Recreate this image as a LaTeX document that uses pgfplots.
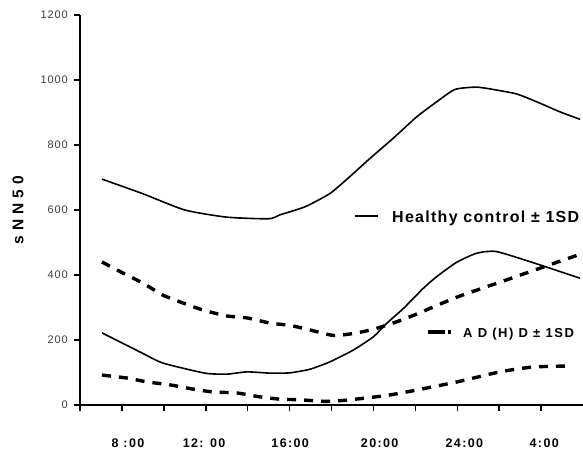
\documentclass[border=0pt]{standalone}
\usepackage{fontspec}
\setmainfont{Liberation Sans}
\newfontfamily\ytfont{Liberation Sans}[LetterSpace=8]
\newfontfamily\xtfont{Liberation Sans}[LetterSpace=11]
\newfontfamily\ylfont{Liberation Sans}[LetterSpace=32]
\newfontfamily\lgfont{Liberation Sans}[LetterSpace=8]
\newfontfamily\lgfontb{Liberation Sans}[LetterSpace=12]
\usepackage{pgfplots}
\pgfplotsset{compat=1.18}

\begin{document}
\begin{tikzpicture}[x=1pt,y=1pt]
\useasboundingbox (-80,-45) rectangle (503,405);
\begin{axis}[
    at={(0,0)}, anchor=south west,
    scale only axis,
    width=503pt, height=390pt,
    xmin=6, xmax=30, ymin=0, ymax=1200,
    axis x line*=bottom, axis y line*=left,
    axis line style={-, line width=1.8pt},
    tick align=outside,
    major tick length=6pt,
    tick style={line width=1.5pt, black},
    xtick={6,8,...,28}, xticklabels={},
    extra x ticks={8.29,11.92,16.03,20.30,24.34,28.15},
    extra x tick labels={8 :00,12: 00,16:00,20:00,24:00,4:00},
    extra x tick style={major tick length=0pt,
        xticklabel style={yshift=-34pt}},
    ytick={0,200,...,1200},
    /pgf/number format/assume math mode=true,
    /pgf/number format/1000 sep={},
    yticklabel style={font=\ytfont\fontsize{11}{13}\selectfont,
        text=black!75, inner sep=0pt, xshift=-6pt},
    xticklabel style={font=\xtfont\bfseries\fontsize{12.5}{14}\selectfont,
        inner sep=0pt, anchor=north},
    ylabel={sNN50},
    ylabel style={at={(axis description cs:-0.123,0.5)}, anchor=center,
        font=\ylfont\bfseries\fontsize{15.5}{17}\selectfont},
]
% healthy control +1SD
\addplot[line width=1.6pt, smooth, tension=0.35] coordinates {
    (7.05,695) (9.0,650) (11.0,600) (13.0,578) (15.0,573) (15.54,585)
    (16.74,610) (17.93,651) (18.88,703) (19.84,759) (20.95,821)
    (22.07,887) (23.02,933) (23.89,971) (24.93,978) (25.88,969)
    (26.84,957) (27.79,933) (28.9,902) (29.86,879)
};
% healthy control -1SD
\addplot[line width=1.6pt, smooth, tension=0.35] coordinates {
    (7.05,222) (8.96,160) (9.96,129) (11.96,98) (13.01,95) (13.97,102)
    (15.07,98) (16.02,99) (16.97,110) (17.93,133) (19.04,169) (20.0,210)
    (20.63,251) (21.43,297) (22.38,359) (23.02,395) (23.97,439)
    (24.93,467) (25.88,472) (27.95,431) (29.86,390)
};
% ADHD +1SD
\addplot[line width=3.4pt, dash pattern=on 9pt off 8pt, smooth, tension=0.35] coordinates {
    (7.05,440) (8.05,406) (9.0,375) (9.96,338) (10.91,314) (11.87,292)
    (13.01,274) (13.97,268) (15.07,252) (16.02,245) (16.97,231)
    (18.09,214) (19.04,220) (20.0,233) (21.11,256) (22.07,280)
    (23.99,332) (26.04,378) (27.95,421) (30.0,467)
};
% ADHD -1SD
\addplot[line width=3.4pt, dash pattern=on 9pt off 8pt, smooth, tension=0.35] coordinates {
    (7.05,92) (8.24,83) (9.2,71) (10.29,62) (11.39,49) (12.35,40)
    (13.49,37) (14.59,25) (15.54,18) (16.5,16) (17.77,11) (18.73,15)
    (19.84,23) (20.79,31) (21.9,44) (22.6,53) (23.99,71) (26.04,102)
    (27.61,117) (29.4,120)
};
\end{axis}
% legend keys
\draw[line width=1.6pt] (275,189) -- (298,189);
\node[anchor=west, inner sep=0pt, font=\lgfont\bfseries\fontsize{16}{18}\selectfont]
    at (312,187) {Healthy control ± 1SD};
\draw[line width=3.4pt] (348,73) -- (365,73);
\draw[line width=3.4pt] (368,73) -- (371,73);
\node[anchor=west, inner sep=0pt, font=\lgfontb\bfseries\fontsize{13}{15}\selectfont]
    at (383,71) {A D (H) D ± 1SD};
\end{tikzpicture}
\end{document}
